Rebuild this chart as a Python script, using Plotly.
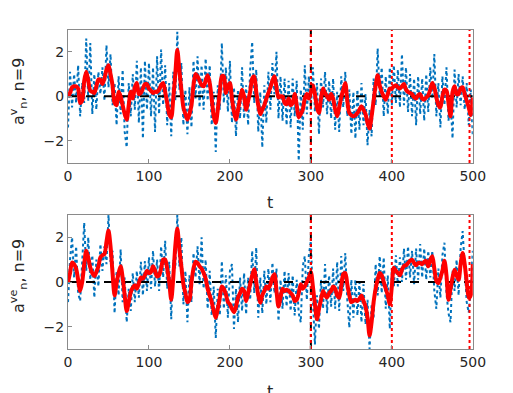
import numpy as np
import plotly.graph_objects as go

# time grid (step 2.5)
t = np.arange(0, 500.1, 2.5)

# upper panel: raw (blue dotted) and smoothed (red)
top_raw = [
    -1.4, 1.1, -0.5, 1.0, -0.3, 1.4, -0.9, 0.6,
    -0.3, 2.6, -0.2, 2.4, -0.8, 1.0, -0.6, 1.1,
    0.1, 1.3, -0.2, 2.3, 0.4, 1.9, -0.4, 0.6,
    -1.3, 0.9, -0.8, 1.2, -1.6, -2.3, 0.6, -0.9,
    1.0, -0.6, 1.6, -1.2, 1.3, -1.9, 1.6, -0.6,
    1.5, -0.9, 1.3, -1.6, 1.8, -0.8, 2.1, -0.4,
    1.4, -1.3, 0.6, -1.8, 1.1, -0.2, 2.9, 0.3,
    1.5, -1.3, 0.3, -1.7, 0.4, -1.4, 1.6, -0.1,
    1.8, -0.5, 1.4, -0.6, 1.7, -0.2, 1.4, -1.3,
    0.2, -2.5, 0.5, -0.6, 2.4, -0.3, 1.3, -0.7,
    1.6, -1.2, 0.4, -1.8, 0.3, -1.0, 1.3, -1.0,
    0.5, -1.3, 1.2, 2.45, -0.3, 1.2, -1.6, 0.2,
    -2.3, 0.5, -1.2, 1.1, -0.6, 1.5, 0.1, 2.0,
    -1.0, 0.9, -1.1, 0.8, -1.3, 0.7, -1.4, 0.8,
    -0.9, 0.7, -2.9, 0.3, -1.5, 1.4, -0.8, 0.9,
    -0.6, 1.3, -0.7, 0.6, -1.7, 0.8, -0.5, 1.1,
    -0.8, 0.7, -1.0, 0.8, -1.5, 0.2, -1.6, 0.9,
    -0.5, 1.1, -0.9, 0.3, -1.7, 0.2, -1.9, 0.3,
    -1.5, 0.6, -1.3, 0.1, -2.2, -0.6, -1.8, 0.8,
    -0.4, 2.15, 0.0, 1.3, -0.9, 0.9, -0.8, 1.3,
    -0.4, 1.4, -0.3, 1.2, -0.5, 1.9, -0.4, 1.3,
    -0.7, 1.0, -0.9, 0.8, -1.3, 0.9, -0.8, 0.8,
    -1.1, 1.0, -0.7, 1.3, -0.1, 1.9, -0.9, 0.6,
    -1.4, 0.9, -0.4, 1.3, -1.1, -0.2, -1.9, 1.2,
    -0.5, 1.0, -0.4, 0.9, -0.6, 0.6, -1.3, 0.3,
    -1.8,
]
top_smooth = [
    0.0, 0.15, 0.4, 0.45, 0.45, 0.35, -0.3, -0.2,
    0.7, 1.1, 0.7, 0.25, 0.2, 0.15, 0.45, 0.75,
    0.75, 0.55, 0.8, 1.2, 1.4, 1.0, 0.5, -0.3,
    -0.4, 0.2, 0.0, -0.4, -0.8, -1.05, -0.4, 0.2,
    -0.1, 0.4, 0.6, 0.1, 0.15, 0.35, 0.55, 0.55,
    0.35, 0.25, 0.15, 0.2, 0.2, 0.3, 0.5, 0.6,
    0.2, -0.3, -0.8, -0.95, -0.1, 1.0, 2.1, 1.2,
    0.3, -0.5, -0.8, -1.05, -0.8, -0.4, 0.5, 1.0,
    0.9, 0.7, 0.5, 0.45, 0.7, 0.95, 0.6, -0.1,
    -0.9, -1.2, -0.6, 0.2, 0.9, 0.9, 0.15, 0.45,
    0.6, -0.1, -0.7, -1.05, -0.6, -0.1, 0.3, 0.0,
    -0.6, -0.2, 0.2, 0.8, 0.9, 0.2, -0.4, -0.8,
    -0.6, -0.4, -0.1, 0.15, 0.4, 0.7, 0.9, 0.4,
    -0.05, 0.0, 0.0, -0.3, -0.35, -0.1, -0.4, -0.3,
    0.1, -0.4, -0.95, -0.8, -0.6, -0.1, 0.1, -0.1,
    0.2, 0.5, 0.1, -0.5, -0.75, -0.1, 0.35, 0.15,
    0.0, -0.15, 0.1, -0.1, -0.6, -0.9, -0.5, -0.05,
    0.3, 0.6, -0.2, -0.75, -0.85, -0.9, -0.85, -0.75,
    -0.6, -0.45, -0.6, -0.8, -1.2, -1.45, -0.9, -0.2,
    0.5, 0.95, 0.5, 0.2, 0.0, -0.15, 0.1, 0.35,
    0.35, 0.45, 0.5, 0.4, 0.35, 0.45, 0.55, 0.3,
    0.2, 0.15, 0.1, -0.05, -0.1, 0.05, 0.1, -0.1,
    -0.15, -0.05, 0.05, 0.3, 0.6, 0.4, -0.05, -0.4,
    -0.5, 0.0, 0.3, 0.25, -0.3, -0.9, 0.2, 0.45,
    0.1, 0.1, 0.35, 0.4, 0.1, -0.2, -0.5, -0.85,
    -0.05,
]

# lower panel
bot_raw = [
    -0.9, 1.0, 2.0, 0.2, 1.6, -0.5, -0.85, 1.2,
    2.65, 0.5, 2.0, 0.1, 1.2, -0.7, 1.0, -0.2,
    1.7, 0.5, 1.6, 0.8, 3.0, 0.9, 1.4, -1.4,
    0.5, -0.6, 1.46, -0.9, 0.2, -1.8, -0.3, -1.3,
    0.4, -0.9, 0.5, -0.7, 0.9, -0.6, 0.94, -0.4,
    1.1, -0.3, 1.4, -0.2, 1.0, -0.4, 1.6, 0.2,
    1.84, -0.3, 0.9, -1.67, 1.0, 0.6, 3.0, 0.7,
    2.0, -1.0, 0.5, -1.8, 0.3, -0.9, 1.3, 0.2,
    1.6, -0.1, 2.0, -0.3, 1.0, -1.2, 0.5, -1.5,
    -0.2, -2.5, -0.3, -1.5, 0.94, -1.2, 0.3, -1.6,
    0.5, 0.8, -2.1, -0.3, -1.8, 0.2, -1.3, 0.4,
    -1.45, 0.2, -0.8, 1.4, -0.5, 1.54, -1.6, 0.2,
    -1.4, 0.5, -1.0, 0.6, -0.9, 0.87, -0.5, 0.6,
    -1.75, 0.1, -1.2, 0.5, -1.1, 0.4, -1.3, 0.3,
    -1.5, 0.1, -1.4, -1.8, 0.7, 1.16, -0.8, 1.2,
    1.84, -0.8, -2.8, -0.6, -2.1, 0.1, -1.2, 0.8,
    -1.4, 0.3, -1.1, 0.6, -1.2, 0.9, -1.3, 1.16,
    -0.4, 1.3, -0.8, -2.05, 0.1, -1.6, 0.1, -1.5,
    0.0, -1.8, -0.1, -1.9, -0.8, -3.0, -1.0, -1.6,
    0.8, -0.6, 1.16, -0.5, 1.1, -1.2, 0.3, -2.1,
    0.6, -0.2, 1.2, -0.2, 1.1, 0.0, 1.5, 0.1,
    1.6, 0.2, 1.4, -0.1, 1.5, 0.1, 1.7, 0.2,
    1.5, 0.1, 1.4, 0.2, 1.4, -0.4, -1.2, 0.6,
    -0.7, 1.2, 1.76, -0.5, -1.4, -1.8, 0.5, -0.4,
    1.0, -0.6, 1.5, 2.28, 0.4, -0.9, -1.37, -0.3,
    1.4,
]
bot_smooth = [
    0.0, 0.4, 0.87, 0.8, 0.6, 0.1, -0.4, 0.0,
    0.8, 1.4, 1.1, 0.65, 0.4, 0.27, 0.45, 0.7,
    1.1, 1.2, 1.25, 1.8, 2.3, 1.6, 0.4, -0.6,
    -0.05, 0.4, 0.7, 0.2, -0.6, -1.3, -0.9, -0.45,
    -0.25, -0.15, -0.3, -0.05, 0.2, 0.15, 0.3, 0.5,
    0.4, 0.45, 0.7, 0.5, 0.25, 0.3, 0.6, 1.0,
    1.0, 0.6, 0.0, -0.8, 0.2, 1.6, 2.4, 1.5,
    0.7, -0.1, -0.5, -0.9, -0.8, 0.0, 0.6, 0.9,
    0.85, 0.7, 0.6, 0.4, 0.15, -0.3, -0.6, -0.9,
    -1.3, -1.6, -1.2, -0.7, -0.2, -0.3, -0.55, -0.9,
    -1.0, -1.2, -1.35, -1.1, -0.7, -0.5, -0.3, -0.4,
    -0.85, -0.5, -0.1, 0.3, 0.57, 0.0, -0.6, -0.93,
    -0.6, -0.4, -0.2, -0.3, -0.1, 0.2, 0.35, -0.4,
    -1.1, -0.7, -0.3, -0.4, -0.35, -0.4, -0.5, -0.6,
    -0.85, -0.8, -0.5, -0.1, -0.3, -0.2, 0.0, 0.2,
    0.45, -0.2, -1.0, -1.67, -1.2, -0.8, -0.4, -0.6,
    -0.7, -0.5, -0.4, -0.2, -0.3, -0.6, -0.7, -0.2,
    0.35, 0.4, -0.1, -0.6, -0.9, -0.85, -0.8, -0.85,
    -0.75, -0.6, -0.85, -1.1, -1.6, -2.4, -1.8, -0.9,
    -0.3, 0.1, 0.4, 0.3, 0.0, -0.3, -0.6, -1.0,
    -0.2, 0.64, 0.5, 0.4, 0.3, 0.55, 0.72, 0.75,
    0.85, 0.95, 1.0, 0.85, 0.75, 0.85, 0.85, 0.8,
    0.9, 0.95, 0.7, 1.0, 1.15, 0.6, 0.05, -0.05,
    0.2, 0.5, 0.95, 0.3, -0.8, -0.3, 0.2, 0.55,
    0.3, 0.1, 0.8, 1.3, 0.8, 0.0, -0.7, -0.6,
    0.8,
]

change_t = 300            # black dash-dot marker
event_t = [300, 400, 496]  # red dotted markers
xticks = [0, 100, 200, 300, 400, 500]
yticks = [-2, 0, 2]
ylabels = ["a<sup>v</sup><sub>n</sub>, n=9", "a<sup>ve</sup><sub>n</sub>, n=9"]

fig = go.Figure()
panels = [(top_raw, top_smooth, "x", "y"), (bot_raw, bot_smooth, "x2", "y2")]
for raw, smooth, xa, ya in panels:
    fig.add_trace(go.Scatter(x=t, y=raw, xaxis=xa, yaxis=ya, mode="lines",
                             line=dict(color="#0072BD", width=2, dash="dot")))
    fig.add_trace(go.Scatter(x=[0, 500], y=[0, 0], xaxis=xa, yaxis=ya, mode="lines",
                             line=dict(color="black", width=2, dash="dash")))
    fig.add_trace(go.Scatter(x=t, y=smooth, xaxis=xa, yaxis=ya, mode="lines",
                             line=dict(color="#FF0000", width=4, shape="spline", smoothing=0.8)))
    fig.add_trace(go.Scatter(x=[change_t, change_t], y=[-3, 3], xaxis=xa, yaxis=ya,
                             mode="lines", line=dict(color="black", width=2, dash="dashdot")))
    for e in event_t:
        fig.add_trace(go.Scatter(x=[e, e], y=[-3, 3], xaxis=xa, yaxis=ya, mode="lines",
                                 line=dict(color="#FF0000", width=2, dash="dot")))

axcol = "#8a8a8a"
xax = dict(range=[0, 500], tickvals=xticks, ticks="inside", ticklen=4, tickcolor=axcol,
           showline=True, linecolor=axcol, mirror=True, showgrid=False, zeroline=False,
           automargin=False, tickfont=dict(size=14, color="#262626"),
           domain=[0.117, 0.906])
yax = dict(range=[-3, 3], tickvals=yticks, ticks="inside", ticklen=4, tickcolor=axcol,
           showline=True, linecolor=axcol, mirror=True, showgrid=False, zeroline=False,
           automargin=False, tickfont=dict(size=14, color="#262626"))

fig.update_layout(
    width=513, height=393,
    margin=dict(l=0, r=0, t=0, b=0),
    paper_bgcolor="white", plot_bgcolor="white",
    showlegend=False,
    font=dict(family="DejaVu Sans", color="#262626"),
    xaxis=dict(xax, anchor="y"),
    yaxis=dict(yax, domain=[0.6056, 0.945], anchor="x"),
    xaxis2=dict(xax, anchor="y2"),
    yaxis2=dict(yax, domain=[0.1323, 0.4733], anchor="x2"),
)

annots = [
    dict(text=ylabels[0], x=0.0195, y=0.786, textangle=-90),
    dict(text=ylabels[1], x=0.0195, y=0.318, textangle=-90),
    dict(text="t", x=0.511, y=0.504),
    dict(text="t", x=0.511, y=0.025),
]
for a in annots:
    fig.add_annotation(xref="paper", yref="paper", showarrow=False,
                       xanchor="center", yanchor="middle",
                       font=dict(size=16, color="#262626"), **a)

fig.write_html("out.html")
